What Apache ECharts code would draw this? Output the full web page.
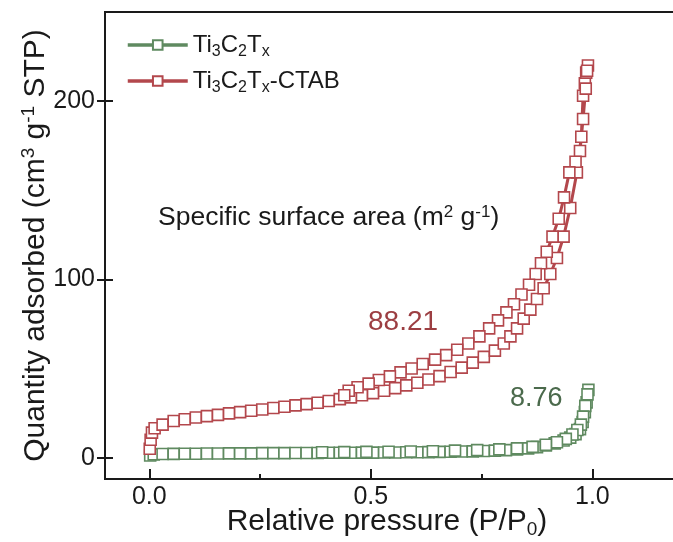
<!DOCTYPE html>
<html>
<head>
<meta charset="utf-8">
<title>N2 adsorption-desorption isotherms</title>
<script src="https://cdn.jsdelivr.net/npm/echarts@6/dist/echarts.min.js"></script>
<style>
  html, body { margin: 0; padding: 0; background: #fff; }
  #chart { width: 673px; height: 542px; }
</style>
</head>
<body>
<div id="chart"></div>
<script>
// Relative pressure (P/P0) and quantity adsorbed (cm3 g-1 STP)
const pristineAdsP = [0.002,0.01,0.03,0.055,0.08,0.105,0.13,0.155,0.18,0.205,0.23,0.255,0.28,0.305,0.33,0.355,0.38,0.405,0.43,0.455,0.48,0.505,0.53,0.555,0.58,0.605,0.63,0.655,0.68,0.705,0.73,0.755,0.78,0.805,0.83,0.855,0.875,0.895,0.915,0.935,0.95,0.962,0.972,0.978,0.983,0.987,0.991];
const pristineAdsV = [1.2,1.8,2.0,2.1,2.2,2.2,2.3,2.3,2.4,2.4,2.4,2.5,2.5,2.5,2.6,2.6,2.6,2.7,2.7,2.7,2.8,2.8,2.9,2.9,3.0,3.0,3.1,3.2,3.3,3.4,3.5,3.7,3.9,4.2,4.6,5.2,5.9,6.8,8.0,9.6,11.2,13.2,16,20,25.5,31,38];
const pristineDesP = [0.989,0.984,0.979,0.974,0.966,0.955,0.94,0.92,0.895,0.865,0.83,0.79,0.74,0.69,0.64,0.59,0.54,0.49,0.44,0.39];
const pristineDesV = [35.5,29,23,18.5,15.5,13,10.5,8.6,7.2,6.0,5.2,4.6,4.2,3.9,3.6,3.4,3.3,3.2,3.1,3.0];

const ctabAdsP = [0.001,0.003,0.006,0.012,0.03,0.055,0.08,0.105,0.13,0.155,0.18,0.205,0.23,0.255,0.28,0.305,0.33,0.355,0.38,0.405,0.43,0.455,0.48,0.505,0.53,0.555,0.58,0.605,0.63,0.655,0.68,0.705,0.73,0.755,0.78,0.80,0.815,0.83,0.845,0.86,0.875,0.89,0.905,0.92,0.935,0.95,0.965,0.975,0.979,0.983,0.986,0.99];
const ctabAdsV = [5,10,14,16.5,18.5,20.5,21.5,22.5,23.3,24,24.8,25.5,26.3,27,27.8,28.5,29.3,30,30.8,31.8,32.8,33.8,35,36.2,37.5,39,40.5,42,43.8,45.7,48,50.5,53.3,56.5,60,64,68,72.5,78,83,89,95,103,112,124,140,160,180,203,210,216,220];
const ctabDesP = [0.988,0.985,0.979,0.972,0.962,0.948,0.936,0.924,0.91,0.897,0.884,0.872,0.857,0.84,0.823,0.806,0.787,0.767,0.745,0.72,0.695,0.67,0.645,0.617,0.592,0.567,0.543,0.518,0.495,0.47,0.45,0.44];
const ctabDesV = [217,207,190,172,166,160,146,134,124,115.5,109,103,97,91.5,86,81.5,77,72.5,68,64,60.5,57.5,55,52.5,50,47.8,45.6,43.5,41.5,39.5,37.5,35];

// Tick positions
const xMajorTicks = [0, 0.5, 1.0];
const xMinorTicks = [0.25, 0.75];
const yMajorTicks = [0, 100, 200];

// Specific surface areas (m2 g-1)
const areaPristine = '8.76';
const areaCtab = '88.21';

const seriesNames = ['Ti3C2Tx', 'Ti3C2Tx-CTAB'];
const legendRich = {
  'Ti3C2Tx': 'Ti{sub|3}C{sub|2}T{sub|x}',
  'Ti3C2Tx-CTAB': 'Ti{sub|3}C{sub|2}T{sub|x}-CTAB'
};

function pairs(ps, vs) { return ps.map((p, i) => [p, vs[i]]); }

const FONT = '"Liberation Sans", Arial, Helvetica, sans-serif';
const INK = '#1a1a1a';
const RED = '#b3474c';
const GREEN = '#5f8a60';

const chart = echarts.init(document.getElementById('chart'));

const option = {
  animation: false,
  textStyle: { fontFamily: FONT },
  grid: {
    left: 105, top: 12, right: -8, bottom: 63,
    outerBoundsMode: 'none', containLabel: false,
    show: true, borderColor: INK, borderWidth: 2
  },
  legend: {
    orient: 'vertical',
    left: 121, top: 25,
    itemWidth: 60, itemHeight: 12, itemGap: 6,
    data: seriesNames,
    lineStyle: { width: 3.5 },
    formatter: name => legendRich[name],
    textStyle: {
      fontSize: 24, color: INK, fontFamily: FONT, lineHeight: 30,
      rich: { sub: { fontSize: 16, verticalAlign: 'bottom', lineHeight: 16, fontFamily: FONT, color: INK } }
    }
  },
  xAxis: [{
    type: 'value', min: -0.1, max: 1.2,
    axisLine: { onZero: false, lineStyle: { color: INK, width: 2 } },
    axisTick: { inside: true, length: 10, customValues: xMajorTicks, lineStyle: { color: INK, width: 2 } },
    axisLabel: { customValues: xMajorTicks, formatter: v => v.toFixed(1), fontSize: 25, color: INK, margin: 6, fontFamily: FONT },
    splitLine: { show: false },
    name: 'Relative pressure (P/P{sub|0})',
    nameLocation: 'middle', nameGap: 26, nameMoveOverlap: false,
    nameTextStyle: {
      fontSize: 30, color: INK, fontFamily: FONT, lineHeight: 34, padding: [0, 12, 0, 0],
      rich: { sub: { fontSize: 19, verticalAlign: 'bottom', lineHeight: 19, fontFamily: FONT, color: INK } }
    }
  }, {
    type: 'value', min: -0.1, max: 1.2, position: 'bottom',
    axisLine: { show: false, onZero: false },
    axisTick: { inside: true, length: 5, customValues: xMinorTicks, lineStyle: { color: INK, width: 2 } },
    axisLabel: { show: false },
    splitLine: { show: false }
  }],
  yAxis: [{
    type: 'value', min: -12, max: 250,
    axisLine: { show: true, onZero: false, lineStyle: { color: INK, width: 2 } },
    axisTick: { show: true, inside: false, length: 8, customValues: yMajorTicks, lineStyle: { color: INK, width: 2 } },
    axisLabel: { customValues: yMajorTicks, fontSize: 25, color: INK, margin: 10, fontFamily: FONT },
    splitLine: { show: false },
    name: 'Quantity adsorbed (cm{sup|3} g{sup|-1} STP)',
    nameLocation: 'middle', nameGap: 52, nameMoveOverlap: false,
    nameTextStyle: {
      fontSize: 30, color: INK, fontFamily: FONT, lineHeight: 34,
      rich: { sup: { fontSize: 19, verticalAlign: 'top', lineHeight: 19, fontFamily: FONT, color: INK } }
    }
  }, {
    type: 'value', min: -12, max: 250, position: 'left',
    axisLine: { show: false, onZero: false },
    axisTick: { show: true, inside: true, length: 8, customValues: yMajorTicks, lineStyle: { color: INK, width: 2 } },
    axisLabel: { show: false },
    splitLine: { show: false }
  }],
  series: [{
    name: seriesNames[0],
    type: 'line',
    data: pairs(pristineAdsP, pristineAdsV).concat(pairs(pristineDesP, pristineDesV)),
    symbol: 'rect', symbolSize: 11,
    lineStyle: { color: GREEN, width: 2.5 },
    itemStyle: { color: '#ffffff', borderColor: GREEN, borderWidth: 1.6 },
    z: 2
  }, {
    name: seriesNames[1],
    type: 'line',
    data: pairs(ctabAdsP, ctabAdsV).concat(pairs(ctabDesP, ctabDesV)),
    symbol: 'rect', symbolSize: 11,
    lineStyle: { color: RED, width: 3 },
    itemStyle: { color: '#ffffff', borderColor: RED, borderWidth: 1.6 },
    z: 3
  }],
  graphic: [{
    type: 'text', left: 158, top: 204,
    style: {
      text: 'Specific surface area (m{sup|2} g{sup|-1})',
      fontSize: 26.5, fontFamily: FONT, fill: INK,
      rich: { sup: { fontSize: 17, verticalAlign: 'top', fontFamily: FONT, fill: INK } }
    }
  }, {
    type: 'text', left: 368, top: 308,
    style: { text: areaCtab, fontSize: 28, fontFamily: FONT, fill: '#9c3e42' }
  }, {
    type: 'text', left: 510, top: 385,
    style: { text: areaPristine, fontSize: 27, fontFamily: FONT, fill: '#4b6a4c' }
  }]
};

chart.setOption(option);
</script>
</body>
</html>
